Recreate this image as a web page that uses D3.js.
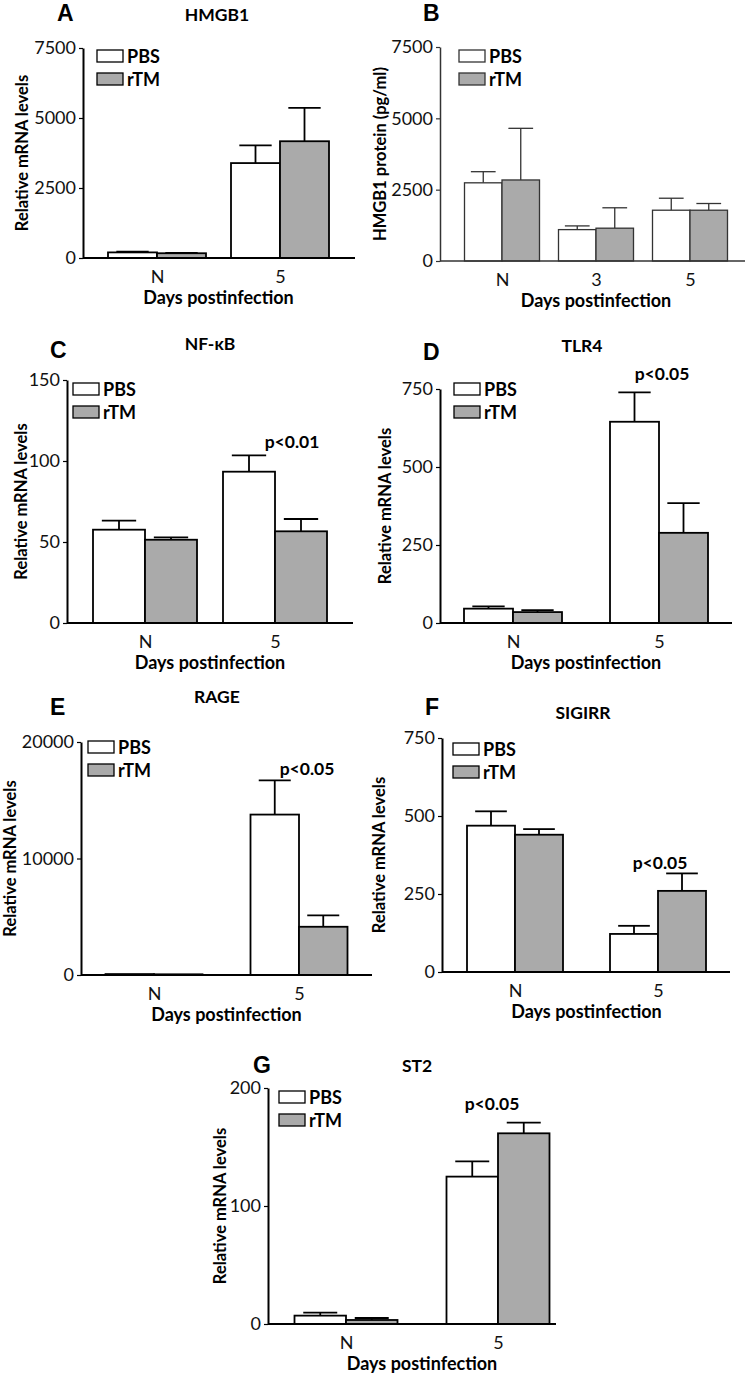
<!DOCTYPE html>
<html>
<head>
<meta charset="utf-8">
<script src="https://cdn.jsdelivr.net/npm/d3@7"></script>
<style>
body{margin:0;background:#fff;}
svg{display:block;font-family:Lato,"Open Sans",sans-serif;}
</style>
</head>
<body>
<svg id="svg" width="747" height="1375"></svg>
<script>
// groups shown in every legend
var series=["PBS","rTM"];

// A - HMGB1 mRNA
var daysA=["N","5"];
var pbsA=[200,3390], pbsSemA=[30,630];
var rtmA=[170,4170], rtmSemA=[15,1190];
var ticksA=[0,2500,5000,7500];

// B - HMGB1 protein
var daysB=["N","3","5"];
var pbsB=[2740,1100,1780], pbsSemB=[390,130,420];
var rtmB=[2840,1150,1780], rtmSemB=[1810,715,235];
var ticksB=[0,2500,5000,7500];

// C - NF-kB
var daysC=["N","5"];
var pbsC=[57.6,93.4], pbsSemC=[5.6,10.1];
var rtmC=[51.4,56.6], rtmSemC=[1.5,7.6];
var ticksC=[0,50,100,150];

// D - TLR4
var daysD=["N","5"];
var pbsD=[46,645], pbsSemD=[7,94];
var rtmD=[35,289], rtmSemD=[6,95];
var ticksD=[0,250,500,750];

// E - RAGE
var daysE=["N","5"];
var pbsE=[80,13770], pbsSemE=[0,2940];
var rtmE=[60,4140], rtmSemE=[0,975];
var ticksE=[0,10000,20000];

// F - SIGIRR
var daysF=["N","5"];
var pbsF=[469,122], pbsSemF=[46,26];
var rtmF=[440,260], rtmSemF=[18,56];
var ticksF=[0,250,500,750];

// G - ST2
var daysG=["N","5"];
var pbsG=[7.1,124.9], pbsSemG=[2.5,13];
var rtmG=[3.4,161.6], rtmSemG=[1.7,9];
var ticksG=[0,100,200];

var svg=d3.select("#svg");

function drawPanel(p){
    var g=svg.append("g");
    var top=p.ticks[p.ticks.length-1];
    var y=d3.scaleLinear().domain([0,top]).range([p.y0,p.y1]);
    var x=d3.scalePoint().domain(p.days).range(p.centers);
    var xs=d3.scaleBand().domain(series).range([-p.bw,p.bw]);
    var sw=p.sw||1.8, ink=p.ink||"#000";

    var rows=[];
    p.days.forEach(function(d,i){
        rows.push({day:d,s:"PBS",v:p.pbs[i],e:p.pbsSem[i]});
        rows.push({day:d,s:"rTM",v:p.rtm[i],e:p.rtmSem[i]});
    });

    // error bars (upper only)
    var eb=g.selectAll(".eb").data(rows).enter().append("g");
    eb.append("line")
    .attr("x1",function(d){return x(d.day)+xs(d.s)+p.bw/2})
    .attr("x2",function(d){return x(d.day)+xs(d.s)+p.bw/2})
    .attr("y1",function(d){return y(d.v)})
    .attr("y2",function(d){return y(d.v+d.e)})
    .attr("stroke",ink).attr("stroke-width",sw);
    eb.filter(function(d){return d.e>0}).append("line")
    .attr("x1",function(d){return x(d.day)+xs(d.s)+p.bw/2-p.bw*0.33})
    .attr("x2",function(d){return x(d.day)+xs(d.s)+p.bw/2+p.bw*0.33})
    .attr("y1",function(d){return y(d.v+d.e)})
    .attr("y2",function(d){return y(d.v+d.e)})
    .attr("stroke",ink).attr("stroke-width",sw);

    g.selectAll("rect.bar").data(rows).enter().append("rect")
    .attr("class","bar")
    .attr("x",function(d){return x(d.day)+xs(d.s)})
    .attr("y",function(d){return y(d.v)})
    .attr("width",p.bw)
    .attr("height",function(d){return p.y0-y(d.v)})
    .style("fill",function(d){return d.s=="PBS"?"#fff":"#aaaaaa"})
    .attr("stroke",ink).attr("stroke-width",sw);

    // y axis
    var ya=g.append("g").attr("transform","translate("+p.ax+",0)")
    .call(d3.axisLeft(y).tickValues(p.ticks).tickFormat(d3.format("d"))
        .tickSize(4).tickSizeOuter(0).tickPadding(3));
    ya.select(".domain").attr("stroke",ink).attr("stroke-width",sw+0.2);
    ya.selectAll(".tick line").attr("stroke",ink).attr("stroke-width",1.2);
    ya.selectAll("text").attr("font-size",18).attr("fill","#111").style("font-family","Lato");

    // x axis
    g.append("line").attr("x1",p.ax).attr("x2",p.xEnd).attr("y1",p.y0).attr("y2",p.y0)
    .attr("stroke",ink).attr("stroke-width",sw+0.2);
    var xa=g.append("g").attr("transform","translate(0,"+p.y0+")")
    .call(d3.axisBottom(x).tickSize(0).tickPadding(12));
    xa.select(".domain").remove();
    xa.selectAll("text").attr("font-size",18).attr("fill","#111").style("font-family","Lato");

    g.append("text").text("Days postinfection")
    .attr("x",(p.centers[0]+p.centers[1])/2).attr("y",p.y0+46)
    .attr("text-anchor","middle").attr("font-weight","bold").attr("font-size",18);

    g.append("text").text(p.ylabel)
    .attr("transform","translate("+p.ylx+","+(p.y0+p.y1)/2+") rotate(-90)")
    .attr("text-anchor","middle").attr("font-weight","bold").attr("font-size",16.5);

    // legend
    series.forEach(function(s,i){
        g.append("rect").attr("x",p.leg[0]).attr("y",p.leg[1]+i*23)
        .attr("width",26).attr("height",12)
        .style("fill",s=="PBS"?"#fff":"#aaaaaa").attr("stroke",ink).attr("stroke-width",1.3);
        g.append("text").text(s).attr("x",p.leg[0]+30).attr("y",p.leg[1]+i*23+13)
        .attr("font-weight","bold").attr("font-size",18);
    });

    g.append("text").text(p.letter).attr("x",p.lt[0]).attr("y",p.lt[1])
    .attr("font-weight","bold").attr("font-size",23).style("font-family","Liberation Sans");
    if(p.title){
        g.append("text").text(p.title).attr("x",p.tt[0]).attr("y",p.tt[1])
        .attr("text-anchor","middle").attr("font-weight","bold").attr("font-size",17.5);
    }
    if(p.pval){
        g.append("text").text(p.pval[0])
        .attr("x",x(p.pval[1])+p.pval[2]).attr("y",y(p.pval[3]))
        .attr("text-anchor","middle").attr("font-weight","bold").attr("font-size",17.5);
    }
}

var mrna="Relative mRNA levels";

drawPanel({letter:"A",lt:[57,21],title:"HMGB1",tt:[217,21],days:daysA,pbs:pbsA,pbsSem:pbsSemA,rtm:rtmA,rtmSem:rtmSemA,
    ticks:ticksA,y0:258,y1:48,ax:83,xEnd:355,centers:[157,280],bw:49,leg:[97,50],ylabel:mrna,ylx:28});
drawPanel({letter:"B",lt:[423,21],days:daysB,pbs:pbsB,pbsSem:pbsSemB,rtm:rtmB,rtmSem:rtmSemB,
    ticks:ticksB,y0:261,y1:47,ax:440,xEnd:745,centers:[502,690],bw:37.5,leg:[459,50],
    ylabel:"HMGB1 protein (pg/ml)",ylx:386,sw:1.3,ink:"#333"});
drawPanel({letter:"C",lt:[50,358],title:"NF-\u03BAB",tt:[210,350],days:daysC,pbs:pbsC,pbsSem:pbsSemC,rtm:rtmC,rtmSem:rtmSemC,
    ticks:ticksC,y0:623,y1:380,ax:67,xEnd:353,centers:[145,275],bw:52,leg:[73,383],ylabel:mrna,ylx:27,
    pval:["p<0.01","5",17,107.8]});
drawPanel({letter:"D",lt:[423,360],title:"TLR4",tt:[582,352],days:daysD,pbs:pbsD,pbsSem:pbsSemD,rtm:rtmD,rtmSem:rtmSemD,
    ticks:ticksD,y0:623,y1:389,ax:440,xEnd:732,centers:[513,659],bw:49,leg:[454,383],ylabel:mrna,ylx:391,
    pval:["p<0.05","5",3,779]});
drawPanel({letter:"E",lt:[50,715],title:"RAGE",tt:[217,703],days:daysE,pbs:pbsE,pbsSem:pbsSemE,rtm:rtmE,rtmSem:rtmSemE,
    ticks:ticksE,y0:975,y1:742,ax:81,xEnd:372,centers:[154,299],bw:48.5,leg:[88,741],ylabel:mrna,ylx:16,
    pval:["p<0.05","5",8,17140]});
drawPanel({letter:"F",lt:[425,715],title:"SIGIRR",tt:[583,719],days:daysF,pbs:pbsF,pbsSem:pbsSemF,rtm:rtmF,rtmSem:rtmSemF,
    ticks:ticksF,y0:972,y1:738,ax:442,xEnd:730,centers:[515,658],bw:48,leg:[453,743],ylabel:mrna,ylx:385,
    pval:["p<0.05","5",2,329]});
drawPanel({letter:"G",lt:[253,1073],title:"ST2",tt:[417,1072],days:daysG,pbs:pbsG,pbsSem:pbsSemG,rtm:rtmG,rtmSem:rtmSemG,
    ticks:ticksG,y0:1324,y1:1088,ax:268,xEnd:556,centers:[346,498],bw:51.5,leg:[279,1091],ylabel:mrna,ylx:226,
    pval:["p<0.05","5",-6,181]});
</script>
</body>
</html>
